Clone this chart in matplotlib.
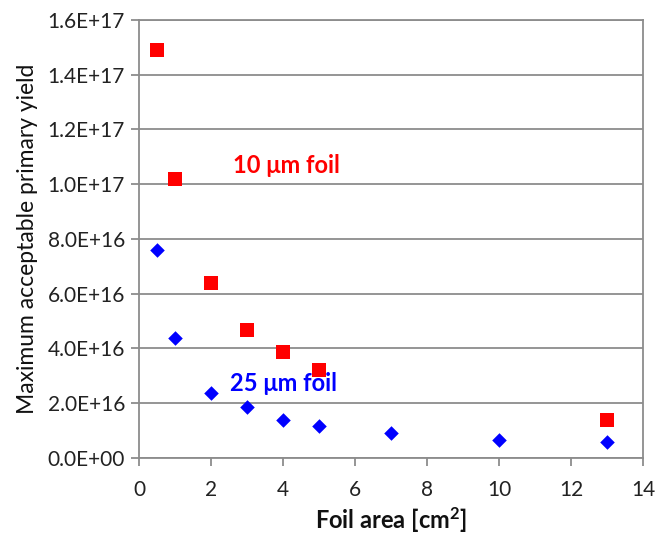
import matplotlib
matplotlib.use("Agg")
import matplotlib.pyplot as plt

plt.rcParams['font.family'] = ['Lato', 'DejaVu Sans']
plt.rcParams['mathtext.fontset'] = 'custom'
plt.rcParams['mathtext.rm'] = 'Lato:bold'
plt.rcParams['mathtext.bf'] = 'Lato:bold'
plt.rcParams['mathtext.default'] = 'rm'

area_10 = [0.5, 1, 2, 3, 4, 5, 13]
yield_10 = [1.49e17, 1.02e17, 6.4e16, 4.68e16, 3.86e16, 3.2e16, 1.39e16]
area_25 = [0.5, 1, 2, 3, 4, 5, 7, 10, 13]
yield_25 = [7.6e16, 4.38e16, 2.37e16, 1.86e16, 1.39e16, 1.16e16, 9.1e15, 6.6e15, 5.8e15]
xticks = [0, 2, 4, 6, 8, 10, 12, 14]
yticks = [0, 2e16, 4e16, 6e16, 8e16, 1.0e17, 1.2e17, 1.4e17, 1.6e17]
ytick_labels = ["0.0E+00", "2.0E+16", "4.0E+16", "6.0E+16", "8.0E+16",
                "1.0E+17", "1.2E+17", "1.4E+17", "1.6E+17"]

fig = plt.figure(figsize=(6.64, 5.37), dpi=100)
ax = fig.add_axes([0.2093, 0.1471, 0.7591, 0.8157])

grid_c = '#8c8c8c'
ax.set_xlim(0, 14)
ax.set_ylim(0, 1.6e17)
ax.set_yticks(yticks)
ax.set_yticklabels(ytick_labels)
ax.set_xticks(xticks)
ax.yaxis.grid(True, color=grid_c, linewidth=1.3)
ax.set_axisbelow(True)
for s in ax.spines.values():
    s.set_color(grid_c)
    s.set_linewidth(1.3)
ax.tick_params(axis='both', direction='out', length=6, width=1.3, color=grid_c,
               labelsize=15, labelcolor='#222222', pad=4)
ax.tick_params(axis='x', pad=10)

ax.scatter(area_10, yield_10, marker='s', s=90, color='#ff0000', zorder=3, linewidths=0)
ax.scatter(area_25, yield_25, marker='D', s=55, color='#0000ff', zorder=3, linewidths=0)

ax.text(2.6, 1.07e17, "10 μm foil", color='#ff0000', fontsize=17, fontweight='bold',
        ha='left', va='center')
ax.text(2.52, 2.72e16, "25 μm foil", color='#0000ff', fontsize=17, fontweight='bold',
        ha='left', va='center')

ax.set_xlabel("Foil area [cm$^{2}$]", fontsize=17, fontweight='bold', color='#111111', labelpad=4)
ax.set_ylabel("Maximum acceptable primary yield", fontsize=16.5, color='#111111', labelpad=7)

fig.savefig("out.png", dpi=100)
